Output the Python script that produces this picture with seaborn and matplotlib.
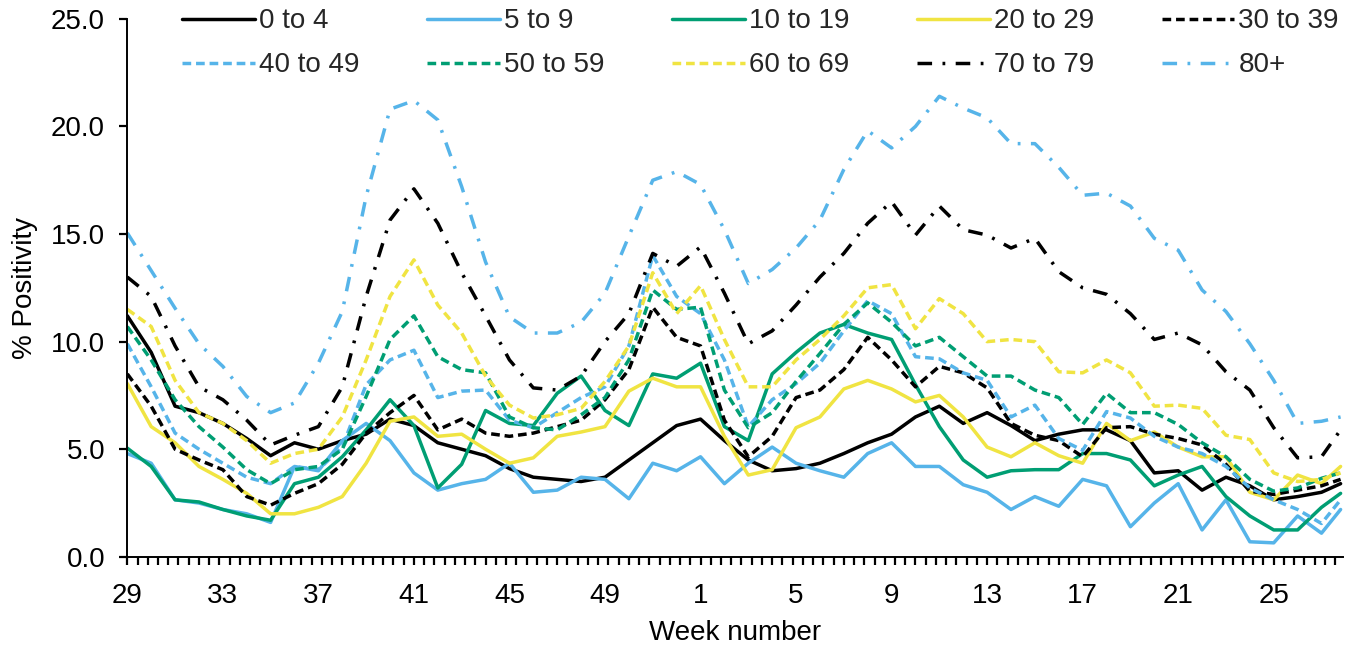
import matplotlib
matplotlib.use("Agg")
import matplotlib.pyplot as plt
import seaborn as sns
from matplotlib.ticker import MultipleLocator, FixedLocator, FixedFormatter, FormatStrFormatter, NullFormatter

# x = weeks since week 29 of 2020 (one reading per week, last at the series end)
weeks = list(range(51)) + [50.8]
tick_pos = [0, 4, 8, 12, 16, 20, 24, 28, 32, 36, 40, 44, 48]
tick_labels = ["29", "33", "37", "41", "45", "49", "1", "5", "9", "13", "17", "21", "25"]

age_0_4 = [11.2, 9.5, 7.0, 6.7, 6.2, 5.5, 4.7, 5.3, 5.0, 5.4, 5.7, 6.4, 6.1, 5.3, 5.0, 4.7, 4.1, 3.7,
           3.6, 3.5, 3.7, 4.5, 5.3, 6.1, 6.4, 5.4, 4.5, 4.0, 4.1, 4.35, 4.8, 5.3, 5.7, 6.5, 7.0, 6.2,
           6.7, 6.1, 5.4, 5.7, 5.9, 5.9, 5.4, 3.9, 4.0, 3.1, 3.7, 3.3, 2.65, 2.8, 3.0, 3.4]
age_5_9 = [4.8, 4.35, 2.65, 2.5, 2.2, 2.0, 1.6, 4.2, 4.0, 5.4, 6.2, 5.4, 3.9, 3.1, 3.4, 3.6, 4.35, 3.0,
           3.1, 3.7, 3.6, 2.7, 4.35, 4.0, 4.65, 3.4, 4.35, 5.1, 4.35, 4.0, 3.7, 4.8, 5.3, 4.2, 4.2, 3.35,
           3.0, 2.2, 2.8, 2.35, 3.6, 3.3, 1.4, 2.5, 3.4, 1.25, 2.65, 0.7, 0.65, 1.9, 1.1, 2.2]
age_10_19 = [5.05, 4.2, 2.65, 2.55, 2.2, 1.9, 1.7, 3.4, 3.7, 4.65, 5.9, 7.3, 6.1, 3.2, 4.3, 6.8, 6.2, 6.1,
             7.6, 8.4, 6.8, 6.1, 8.5, 8.3, 9.0, 6.05, 5.4, 8.5, 9.5, 10.4, 10.8, 10.4, 10.1, 8.0, 6.05, 4.5,
             3.7, 4.0, 4.05, 4.05, 4.8, 4.8, 4.5, 3.3, 3.8, 4.2, 2.8, 1.9, 1.25, 1.25, 2.3, 2.95]
age_20_29 = [8.05, 6.05, 5.3, 4.2, 3.6, 2.95, 2.0, 2.0, 2.3, 2.8, 4.35, 6.3, 6.5, 5.6, 5.7, 5.0, 4.35, 4.6,
             5.6, 5.8, 6.05, 7.7, 8.3, 7.9, 7.9, 5.6, 3.8, 4.05, 6.0, 6.5, 7.8, 8.2, 7.8, 7.2, 7.5, 6.5,
             5.1, 4.65, 5.3, 4.7, 4.35, 6.2, 5.4, 5.8, 5.1, 4.65, 4.65, 3.0, 2.65, 3.8, 3.4, 4.2]
age_30_39 = [8.5, 7.0, 5.0, 4.5, 4.05, 2.8, 2.4, 2.95, 3.4, 4.3, 5.75, 6.7, 7.5, 5.9, 6.4, 5.75, 5.6, 5.75,
             6.05, 6.35, 7.3, 8.7, 11.6, 10.2, 9.8, 6.35, 4.65, 5.6, 7.4, 7.75, 8.7, 10.2, 9.15, 7.9, 8.85,
             8.55, 7.85, 6.2, 5.65, 5.4, 4.65, 6.0, 6.05, 5.7, 5.5, 5.2, 4.3, 3.05, 2.9, 3.1, 3.3, 3.6]
age_40_49 = [9.9, 7.9, 5.75, 5.0, 4.35, 3.7, 3.4, 4.2, 4.05, 5.1, 8.0, 9.15, 9.6, 7.4, 7.7, 7.75, 6.35, 6.0,
             6.7, 7.4, 7.9, 9.8, 14.0, 12.1, 11.3, 9.15, 6.05, 7.3, 8.05, 9.0, 10.5, 11.9, 11.3, 9.3, 9.2,
             8.55, 8.2, 6.5, 7.05, 5.5, 4.95, 6.75, 6.45, 5.6, 5.1, 4.8, 4.2, 3.2, 2.65, 2.2, 1.55, 2.65]
age_50_59 = [10.7, 9.15, 7.3, 6.05, 5.1, 4.05, 3.4, 4.05, 4.2, 5.0, 7.45, 10.1, 11.2, 9.3, 8.7, 8.55, 6.5,
             6.0, 5.9, 6.6, 7.4, 9.15, 12.4, 11.5, 11.6, 7.75, 6.0, 6.7, 8.15, 9.45, 10.8, 11.8, 10.9, 9.8,
             10.2, 9.3, 8.4, 8.4, 7.75, 7.4, 6.15, 7.6, 6.7, 6.7, 6.15, 5.3, 4.65, 3.6, 3.05, 3.2, 3.65, 3.9]
age_60_69 = [11.5, 10.7, 8.2, 6.7, 6.2, 5.4, 4.35, 4.8, 5.0, 6.5, 9.15, 12.1, 13.8, 11.7, 10.4, 8.4, 7.05,
             6.45, 6.6, 6.9, 8.15, 9.8, 13.2, 11.3, 12.6, 10.1, 7.9, 7.9, 9.15, 10.1, 11.2, 12.5, 12.65, 10.6,
             12.0, 11.3, 10.0, 10.1, 10.0, 8.6, 8.55, 9.15, 8.55, 7.0, 7.05, 6.9, 5.65, 5.45, 3.9, 3.5, 3.6, 3.9]
age_70_79 = [13.0, 12.1, 9.8, 7.9, 7.3, 6.35, 5.2, 5.65, 6.05, 7.9, 12.1, 15.65, 17.1, 15.5, 13.2, 11.2,
             9.15, 7.85, 7.75, 8.4, 10.0, 11.3, 14.1, 13.5, 14.4, 12.25, 9.9, 10.5, 11.7, 13.0, 14.1, 15.5,
             16.5, 14.95, 16.3, 15.2, 14.95, 14.35, 14.8, 13.25, 12.5, 12.2, 11.3, 10.1, 10.4, 9.85, 8.6,
             7.75, 6.0, 4.6, 4.65, 5.9]
age_80_plus = [15.05, 13.3, 11.55, 9.9, 8.85, 7.45, 6.7, 7.15, 9.0, 11.4, 16.75, 20.8, 21.2, 20.3, 17.2,
               13.7, 11.15, 10.4, 10.4, 10.9, 12.25, 14.9, 17.5, 17.9, 17.3, 15.2, 12.7, 13.35, 14.35,
               15.65, 18.0, 19.8, 19.0, 20.0, 21.4, 20.85, 20.4, 19.2, 19.2, 18.1, 16.8, 16.9, 16.3, 14.8,
               14.25, 12.4, 11.4, 9.9, 8.2, 6.2, 6.3, 6.5]

labels = ["0 to 4", "5 to 9", "10 to 19", "20 to 29", "30 to 39",
          "40 to 49", "50 to 59", "60 to 69", "70 to 79", "80+"]
series = [age_0_4, age_5_9, age_10_19, age_20_29, age_30_39,
          age_40_49, age_50_59, age_60_69, age_70_79, age_80_plus]
colors = ["#000000", "#56B4E9", "#009E73", "#F0E442", "#000000",
          "#56B4E9", "#009E73", "#F0E442", "#000000", "#56B4E9"]
solid = "-"
dash = (0, (2.5, 1.4))
dashdot = (0, (4.2, 3.0, 0.8, 3.0))
styles = [solid, solid, solid, solid, dash, dash, dash, dash, dashdot, dashdot]

sns.set_theme(style="ticks")
plt.rcParams["font.family"] = ["Liberation Sans", "DejaVu Sans"]

fig, ax = plt.subplots(figsize=(13.69, 6.49), dpi=100)
fig.subplots_adjust(left=0.093, right=0.981, bottom=0.142, top=0.971)

for lab, vals, col, ls in zip(labels, series, colors, styles):
    sns.lineplot(x=weeks, y=vals, ax=ax, color=col, label=lab,
                 linewidth=2.5, linestyle=ls, dash_capstyle="butt")

ax.set_xlim(0, 50.9)
ax.set_ylim(0, 25)
ax.yaxis.set_major_locator(MultipleLocator(5))
ax.yaxis.set_major_formatter(FormatStrFormatter("%.1f"))

# small tick marks every 3 days, week labels every 4 weeks
mark_pos = [i * 3 / 7 for i in range(119)]
ax.xaxis.remove_overlapping_locs = False
ax.xaxis.set_major_locator(FixedLocator(mark_pos))
ax.xaxis.set_major_formatter(NullFormatter())
ax.xaxis.set_minor_locator(FixedLocator(tick_pos))
ax.xaxis.set_minor_formatter(FixedFormatter(tick_labels))

ax.tick_params(axis="both", which="major", direction="out", length=6, width=1.6,
               color="#000000", labelsize=20, labelcolor="#000000")
ax.tick_params(axis="x", which="minor", length=0, pad=19, labelsize=20, labelcolor="#000000")
ax.tick_params(axis="y", which="major", pad=10)
ax.tick_params(axis="y", which="minor", left=False)
for side in ["top", "right"]:
    ax.spines[side].set_visible(False)
for side in ["left", "bottom"]:
    ax.spines[side].set_color("#000000")
    ax.spines[side].set_linewidth(1.4)

ax.set_xlabel("Week number", fontsize=20, color="#000000", labelpad=8)
ax.set_ylabel("% Positivity", fontsize=20, color="#000000", labelpad=9)

# matplotlib fills legend columns first, so interleave to get two rows of five
handles, names = ax.get_legend_handles_labels()
order = [0, 5, 1, 6, 2, 7, 3, 8, 4, 9]
ax.legend([handles[i] for i in order], [names[i] for i in order],
          ncol=5, loc="upper center", bbox_to_anchor=(0.521, 1.040), borderaxespad=0,
          frameon=False, fontsize=20, handlelength=2.6, handletextpad=0.15,
          columnspacing=2.45, labelspacing=0.65)

fig.savefig("out.png", dpi=100)
